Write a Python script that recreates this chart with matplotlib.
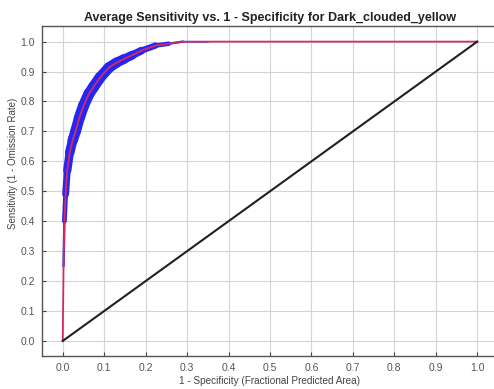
import matplotlib
matplotlib.use('Agg')
import matplotlib.pyplot as plt
from matplotlib.collections import LineCollection
import numpy as np

plt.rcParams['font.family'] = ['Liberation Sans', 'DejaVu Sans']

# mean ROC curve
fpr = [0.0, 0.001, 0.002, 0.004, 0.007, 0.011, 0.017, 0.024, 0.031, 0.040, 0.050,
       0.063, 0.075, 0.09, 0.112, 0.13, 0.148, 0.168, 0.19, 0.224, 0.256, 0.29, 0.35, 1.0]
tpr = [0.0, 0.12, 0.25, 0.40, 0.49, 0.57, 0.63, 0.67, 0.70, 0.745, 0.785,
       0.825, 0.85, 0.88, 0.914, 0.93, 0.942, 0.955, 0.97, 0.987, 0.993, 1.0, 1.0, 1.0]
# half-width of the blue band (std) around the mean, in sensitivity units
spread = [0.0, 0.0, 0.002, 0.006, 0.010, 0.013, 0.015, 0.017, 0.018, 0.018, 0.019,
          0.018, 0.019, 0.018, 0.018, 0.017, 0.016, 0.014, 0.012, 0.009, 0.006, 0.002, 0.0, 0.0]
random_x = [0.0, 1.0]
random_y = [0.0, 1.0]

ticks = [0.0, 0.1, 0.2, 0.3, 0.4, 0.5, 0.6, 0.7, 0.8, 0.9, 1.0]

fig = plt.figure(figsize=(4.94, 3.89), dpi=100)
ax = fig.add_axes([0.085, 0.085, 0.923, 0.848])
ax.set_xlim(-0.05, 1.05)
ax.set_ylim(-0.05, 1.052)

# blue band drawn as a thick line whose width follows the spread
pts = np.column_stack([fpr, tpr])
segs = np.stack([pts[:-1], pts[1:]], axis=1)
px_per_unit = ax.transData.transform((0, 1))[1] - ax.transData.transform((0, 0))[1]
sp = np.array(spread)
widths = (sp[:-1] + sp[1:]) * px_per_unit * 72.0 / fig.dpi
band = LineCollection(segs, linewidths=widths, colors='#2626f2', capstyle='round',
                      joinstyle='round', zorder=2)
ax.add_collection(band)
ax.plot(fpr, tpr, color='#d22c62', lw=1.3, zorder=3)
ax.plot(random_x, random_y, color='#202020', lw=1.5, zorder=3)

ax.set_xticks(ticks)
ax.set_yticks(ticks)
ax.set_xticklabels(['%.1f' % v for v in ticks])
ax.set_yticklabels(['%.1f' % v for v in ticks])
ax.grid(True, color='#d4d4d4', lw=0.8)
ax.set_axisbelow(True)
ax.tick_params(direction='in', length=3, labelsize=7.5, labelcolor='#555555',
               color='#444444', right=True, top=False, pad=5)
for s in ax.spines.values():
    s.set_color('#555555')
    s.set_linewidth(1.0)

ax.set_title('Average Sensitivity vs. 1 - Specificity for Dark_clouded_yellow',
             fontsize=9, fontweight='bold', color='#222222', pad=4)
ax.set_xlabel('1 - Specificity (Fractional Predicted Area)', fontsize=7.2,
              color='#444444', labelpad=2)
ax.set_ylabel('Sensitivity (1 - Omission Rate)', fontsize=7.0, color='#444444')
ax.yaxis.set_label_coords(-0.052, 0.585)

fig.savefig('out.png', dpi=100)
